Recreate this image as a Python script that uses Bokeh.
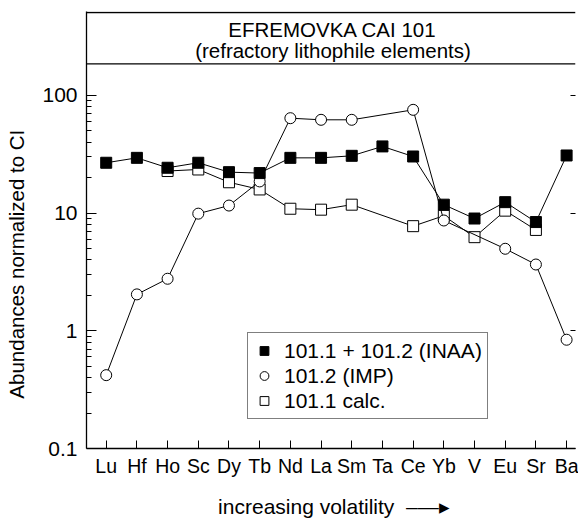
from bokeh.plotting import figure
from bokeh.models import (FixedTicker, LogAxis, Span, Label, Legend, LegendItem,
                          ColumnDataSource, Range1d)
from bokeh.embed import file_html
from bokeh.resources import INLINE

# ---- data ----
elements = ["Lu", "Hf", "Ho", "Sc", "Dy", "Tb", "Nd", "La", "Sm", "Ta",
            "Ce", "Yb", "V", "Eu", "Sr", "Ba"]
inaa = [26.8, 29.5, 24.3, 26.8, 22.3, 21.9, 29.5, 29.5, 30.7, 36.9,
        30.3, 11.8, 9.0, 12.4, 8.4, 30.9]
imp = [0.42, 2.04, 2.77, 9.9, 11.6, 18.6, 64.1, 62.1, 62.1, None,
       75.5, 8.66, None, 4.98, 3.66, 0.84]
calc = [None, None, 22.8, 23.5, 18.3, 15.9, 10.9, 10.7, 11.8, None,
        7.75, 9.5, 6.25, 10.5, 7.2, None]

y_major = [0.1, 1, 10, 100]
y_labels = ["0.1", "1", "10", "100"]
y_minor = [k * 10.0 ** e for e in (-1, 0, 1) for k in range(2, 10)]

title_1 = "EFREMOVKA CAI 101"
title_2 = "(refractory lithophile elements)"
y_title = "Abundances normalized to CI"
x_title = "increasing volatility"
legend_labels = ["101.1 + 101.2 (INAA)", "101.2 (IMP)", "101.1 calc."]

FONT = "Liberation Sans"
NB = "\u00a0"

p = figure(output_backend="svg", toolbar_location=None, y_axis_type="log",
           x_range=Range1d(-0.642, 15.29), y_range=Range1d(0.1, 517),
           frame_width=489, frame_height=437,
           min_border_left=86, min_border_top=11, min_border_right=3,
           min_border_bottom=71)
p.outline_line_color = None
p.grid.visible = False
p.background_fill_color = "white"
p.border_fill_color = "white"

# x axis
xa = p.xaxis[0]
xa.ticker = FixedTicker(ticks=list(range(len(elements))))
xa.major_label_overrides = {i: n for i, n in enumerate(elements)}
xa.major_tick_in = 8
xa.major_tick_out = 0
xa.minor_tick_line_color = None
xa.axis_line_width = 1.3
xa.axis_line_color = "black"
xa.major_tick_line_color = "black"
xa.major_label_standoff = 6
xa.major_label_text_font = FONT
xa.major_label_text_font_size = "19.5px"
xa.major_label_text_color = "black"
xa.axis_label = NB + x_title + NB * 2 + "\u2013\u2014\u25b8"
xa.axis_label_standoff = 15
xa.axis_label_text_font = FONT
xa.axis_label_text_font_size = "21px"
xa.axis_label_text_font_style = "normal"
xa.axis_label_text_color = "black"

# y axis
ya = p.yaxis[0]
ya.ticker = FixedTicker(ticks=y_major, minor_ticks=y_minor)
ya.major_label_overrides = {v: s for v, s in zip(y_major, y_labels)}
ya.major_tick_in = 10
ya.major_tick_out = 0
ya.minor_tick_in = 5
ya.minor_tick_out = 0
ya.axis_line_width = 1.3
ya.axis_line_color = "black"
ya.major_tick_line_color = "black"
ya.minor_tick_line_color = "black"
ya.major_label_standoff = 9
ya.major_label_text_font = FONT
ya.major_label_text_font_size = "21px"
ya.major_label_text_color = "black"
ya.axis_label = y_title + NB * 12
ya.axis_label_standoff = 11
ya.axis_label_text_font = FONT
ya.axis_label_text_font_size = "20.5px"
ya.axis_label_text_font_style = "normal"
ya.axis_label_text_color = "black"

# right axis: short inward ticks only
ra = LogAxis(ticker=FixedTicker(ticks=y_major))
ra.axis_line_color = None
ra.major_tick_in = 5
ra.major_tick_out = 0
ra.major_tick_line_color = "black"
ra.major_tick_line_width = 1
ra.minor_tick_line_color = None
ra.major_label_overrides = {v: "" for v in y_major}
ra.major_label_standoff = 0
p.add_layout(ra, "right")

# top border and title box divider
p.add_layout(Span(location=507, dimension="width", line_color="black", line_width=1.3))
p.add_layout(Span(location=185.8, dimension="width", line_color="black", line_width=1.3))

def series(vals):
    xs = [i for i, v in enumerate(vals) if v is not None]
    ys = [v for v in vals if v is not None]
    return ColumnDataSource(dict(x=xs, y=ys))

s_calc = series(calc)
s_imp = series(imp)
s_inaa = series(inaa)

p.line("x", "y", source=s_calc, line_color="black", line_width=1)
r_calc = p.scatter("x", "y", source=s_calc, marker="square", size=11,
                   fill_color="white", line_color="black", line_width=1)
p.line("x", "y", source=s_imp, line_color="black", line_width=1)
r_imp = p.scatter("x", "y", source=s_imp, marker="circle", size=11,
                  fill_color="white", line_color="black", line_width=1)
p.line("x", "y", source=s_inaa, line_color="black", line_width=1)
r_inaa = p.scatter("x", "y", source=s_inaa, marker="square", size=11,
                   fill_color="black", line_color="black", line_width=1)

legend = Legend(items=[LegendItem(label=legend_labels[0], renderers=[r_inaa]),
                       LegendItem(label=legend_labels[1], renderers=[r_imp]),
                       LegendItem(label=legend_labels[2], renderers=[r_calc])],
                location=(161, 29))
legend.label_text_font = FONT
legend.label_text_font_size = "21px"
legend.label_text_color = "black"
legend.label_height = 25
legend.glyph_height = 25
legend.glyph_width = 22
legend.label_standoff = 9
legend.padding = 5
legend.spacing = 0
legend.margin = 0
legend.border_line_color = "black"
legend.border_line_width = 1.3
legend.background_fill_color = "white"
legend.background_fill_alpha = 1
p.add_layout(legend, "center")

def lab(text, x, y):
    p.add_layout(Label(text=text, x=x, y=y, x_units="screen", y_units="screen",
                       text_align="center", text_baseline="alphabetic",
                       text_font=FONT, text_font_size="20.5px", text_color="black"))

lab(title_1, 246, 419)
lab(title_2, 246.5, 398.5)

open("out.html", "w").write(file_html(p, INLINE))
